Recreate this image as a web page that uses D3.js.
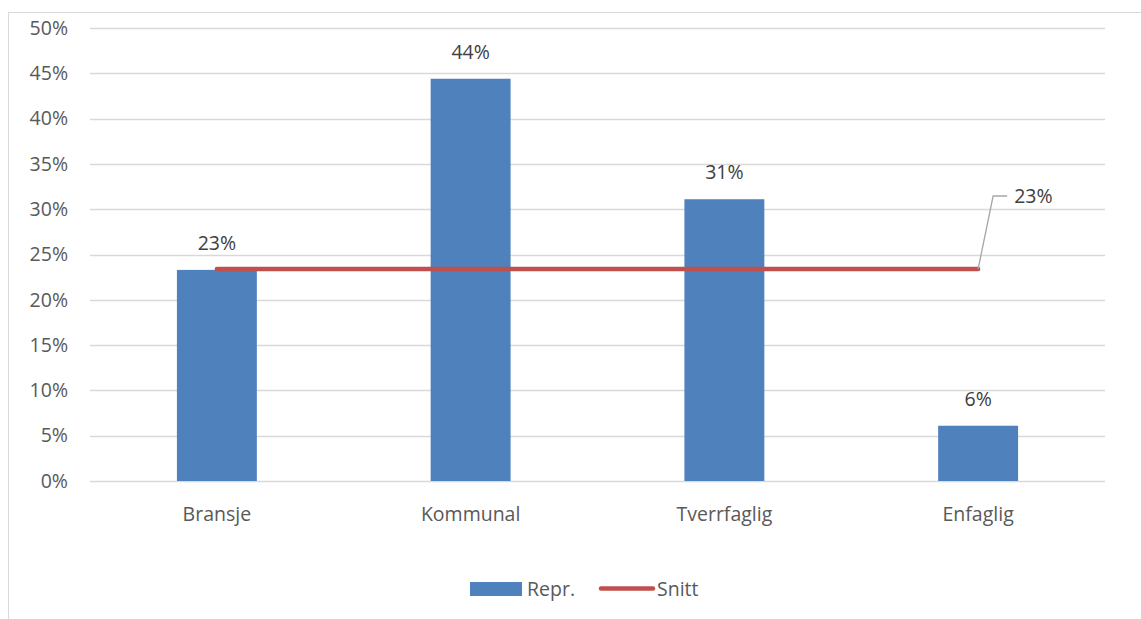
<!DOCTYPE html>
<html>
<head>
<meta charset="utf-8">
<script src="https://cdn.jsdelivr.net/npm/d3@7"></script>
<style>
  body { margin: 0; background: #fff; }
  svg { display: block; font-family: "Open Sans", "Noto Sans", sans-serif; }
</style>
</head>
<body>
<svg id="chart" width="1141" height="619"></svg>
<script>
const categories = ["Bransje", "Kommunal", "Tverrfaglig", "Enfaglig"];
const repr = [0.233, 0.444, 0.311, 0.061];
const snitt = [0.234, 0.234, 0.234, 0.234];
const yTicks = [0, 0.05, 0.10, 0.15, 0.20, 0.25, 0.30, 0.35, 0.40, 0.45, 0.50];

const svg = d3.select("#chart");
const width = +svg.attr("width"), height = +svg.attr("height");

const BLUE = "#4F81BD", RED = "#C0504D";
const FS = "19.5px";

// chart frame
svg.append("rect")
    .attr("x", 8.5).attr("y", 12.5)
    .attr("width", 1200).attr("height", 700)
    .attr("fill", "none")
    .attr("stroke", "#d9d9d9");

const plot = {left: 90, right: 1105, top: 28, bottom: 481};

const x = d3.scaleBand()
    .domain(categories)
    .range([plot.left, plot.right])
    .paddingInner(0.685)
    .paddingOuter(0.3425);

const y = d3.scaleLinear()
    .domain([0, 0.5])
    .range([plot.bottom, plot.top]);

// gridlines
svg.append("g")
  .selectAll("line")
  .data(yTicks)
  .enter().append("line")
    .attr("x1", plot.left).attr("x2", plot.right)
    .attr("y1", d => Math.round(y(d)) + 0.5)
    .attr("y2", d => Math.round(y(d)) + 0.5)
    .attr("stroke", "#d9d9d9")
    .attr("stroke-width", 1.3);

// y axis labels
const yAxis = svg.append("g")
    .attr("transform", `translate(${plot.left - 22},0)`)
    .call(d3.axisLeft(y).tickValues(yTicks).tickFormat(d3.format(".0%")).tickSize(0).tickPadding(0));
yAxis.select(".domain").remove();
yAxis.selectAll("text")
    .attr("fill", "#595959")
    .attr("font-size", FS)
    .attr("font-family", "\"Open Sans\", sans-serif");

// x axis labels
const xAxis = svg.append("g")
    .attr("transform", `translate(0,${plot.bottom + 26})`)
    .call(d3.axisBottom(x).tickSize(0).tickPadding(0));
xAxis.select(".domain").remove();
xAxis.selectAll("text")
    .attr("fill", "#595959")
    .attr("font-size", FS)
    .attr("font-family", "\"Open Sans\", sans-serif");

// bars
svg.append("g")
  .selectAll("rect")
  .data(categories)
  .enter().append("rect")
    .attr("x", d => x(d))
    .attr("y", (d, i) => y(repr[i]))
    .attr("width", x.bandwidth())
    .attr("height", (d, i) => y(0) - y(repr[i]))
    .attr("fill", BLUE);

// bar labels
svg.append("g")
  .selectAll("text")
  .data(categories)
  .enter().append("text")
    .attr("x", d => x(d) + x.bandwidth() / 2)
    .attr("y", (d, i) => y(repr[i]) - 20)
    .attr("text-anchor", "middle")
    .attr("fill", "#404040")
    .attr("font-size", FS)
    .text((d, i) => d3.format(".0%")(repr[i]));

// average line
const line = d3.line()
    .x((d, i) => x(categories[i]) + x.bandwidth() / 2)
    .y(d => y(d));

svg.append("path")
    .datum(snitt)
    .attr("d", line)
    .attr("fill", "none")
    .attr("stroke", RED)
    .attr("stroke-width", 4.5)
    .attr("stroke-linecap", "round");

// leader label on last point
const last = snitt.length - 1;
const lx = x(categories[last]) + x.bandwidth() / 2, ly = y(snitt[last]);
svg.append("path")
    .attr("d", `M${lx},${ly} L${lx + 15},${ly - 73} L${lx + 29},${ly - 73}`)
    .attr("fill", "none")
    .attr("stroke", "#a6a6a6")
    .attr("stroke-width", 1.3);
svg.append("text")
    .attr("x", lx + 36)
    .attr("y", ly - 73)
    .attr("dy", "0.35em")
    .attr("fill", "#404040")
    .attr("font-size", FS)
    .text(d3.format(".0%")(snitt[last]));

// legend
const legend = svg.append("g").attr("font-size", FS).attr("fill", "#595959");
legend.append("rect")
    .attr("x", 470).attr("y", 582)
    .attr("width", 52).attr("height", 14)
    .attr("fill", BLUE);
legend.append("text")
    .attr("x", 527).attr("y", 589).attr("dy", "0.35em")
    .text("Repr.");
legend.append("line")
    .attr("x1", 601).attr("x2", 653)
    .attr("y1", 588.5).attr("y2", 588.5)
    .attr("stroke", RED)
    .attr("stroke-width", 4.5)
    .attr("stroke-linecap", "round");
legend.append("text")
    .attr("x", 657).attr("y", 589).attr("dy", "0.35em")
    .text("Snitt");
</script>
</body>
</html>
